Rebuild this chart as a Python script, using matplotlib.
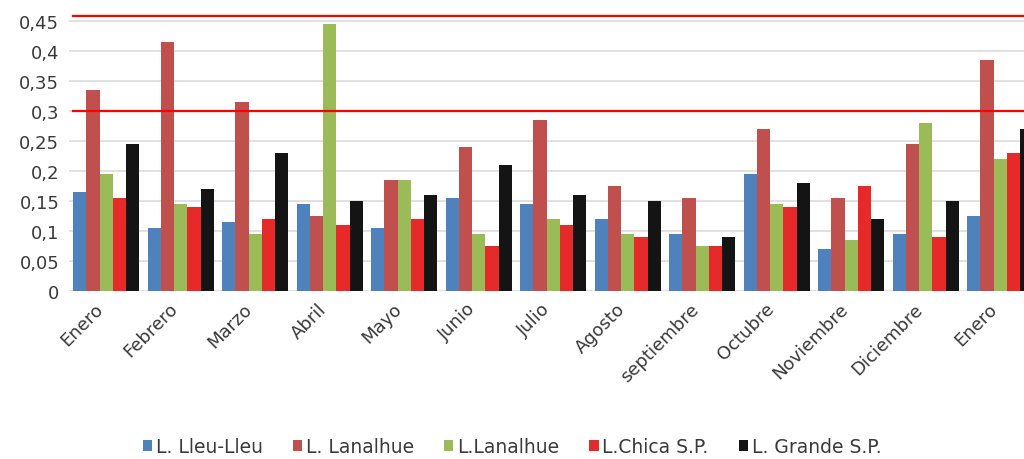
import matplotlib
matplotlib.use("Agg")
import matplotlib.pyplot as plt
import matplotlib.transforms as mtransforms
import numpy as np

months = ["Enero", "Febrero", "Marzo", "Abril", "Mayo", "Junio", "Julio",
          "Agosto", "septiembre", "Octubre", "Noviembre", "Diciembre", "Enero"]

lleu_lleu = [0.165, 0.105, 0.115, 0.145, 0.105, 0.155, 0.145, 0.12, 0.095, 0.195, 0.07, 0.095, 0.125]
lanalhue_1 = [0.335, 0.415, 0.315, 0.125, 0.185, 0.24, 0.285, 0.175, 0.155, 0.27, 0.155, 0.245, 0.385]
lanalhue_2 = [0.195, 0.145, 0.095, 0.445, 0.185, 0.095, 0.12, 0.095, 0.075, 0.145, 0.085, 0.28, 0.22]
chica_sp = [0.155, 0.14, 0.12, 0.11, 0.12, 0.075, 0.11, 0.09, 0.075, 0.14, 0.175, 0.09, 0.23]
grande_sp = [0.245, 0.17, 0.23, 0.15, 0.16, 0.21, 0.16, 0.15, 0.09, 0.18, 0.12, 0.15, 0.27]

series = [lleu_lleu, lanalhue_1, lanalhue_2, chica_sp, grande_sp]
names = ["L. Lleu-Lleu", "L. Lanalhue", "L.Lanalhue", "L.Chica S.P.", "L. Grande S.P."]
colors = ["#4f81bd", "#c0504d", "#9bbb59", "#e62a2a", "#141414"]

limits = [0.3, 0.458]

txt = "#3a3a3a"

fig = plt.figure(figsize=(10.24, 4.6), dpi=100)
ax = fig.add_axes([69 / 1024, (460 - 292) / 460, 968.5 / 1024, 282 / 460])

x = np.arange(len(months))
w = 0.177
for i, (vals, name, c) in enumerate(zip(series, names, colors)):
    ax.bar(x + (i - 2) * w, vals, width=w, color=c, label=name, zorder=3)

for lim in limits:
    ax.axhline(lim, xmin=0.004, xmax=1, color="#ff0000", lw=1.6, zorder=4)

ax.set_xlim(-0.5, 12.5)
ax.set_ylim(0, 0.47)
yt = np.arange(0, 0.451, 0.05)
ax.set_yticks(yt)
ax.set_yticklabels([("%.2f" % v).rstrip("0").rstrip(".").replace(".", ",") if v > 0 else "0" for v in yt],
                   fontsize=13, color=txt)
ax.yaxis.grid(True, color="#dcdcdc", lw=1.2, zorder=0)
ax.tick_params(axis="y", length=0, pad=7)

ax.set_xticks(x)
ax.set_xticklabels(months, rotation=45, ha="right", rotation_mode="anchor", fontsize=13, color=txt)
ax.tick_params(axis="x", length=0, pad=6)
off = mtransforms.ScaledTranslation(-0.12, 0, fig.dpi_scale_trans)
for lab in ax.get_xticklabels():
    lab.set_transform(lab.get_transform() + off)

for s in ax.spines.values():
    s.set_visible(False)

fig.legend(loc="center", bbox_to_anchor=(0.5, 0.027), ncol=5, frameon=False,
           fontsize=13.5, labelcolor=txt, handlelength=0.5, handleheight=0.5,
           handletextpad=0.2, columnspacing=1.6)

fig.savefig("out.png", dpi=100)
